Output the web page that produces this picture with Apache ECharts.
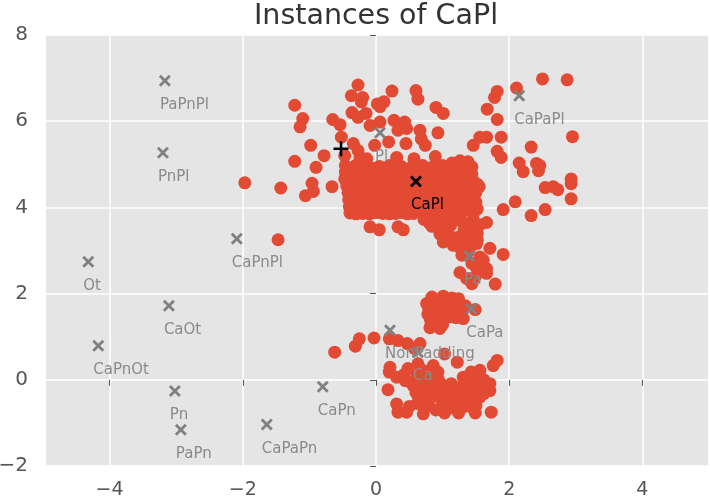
<!DOCTYPE html>
<html>
<head>
<meta charset="utf-8">
<style>html,body{margin:0;background:#fff}#container{width:710px;height:500px}</style>
<script src="https://cdn.jsdelivr.net/npm/echarts@6/dist/echarts.min.js"></script>
</head>
<body>
<div id="container"></div>
<script>
var xTicks = [-4, -2, 0, 2, 4];

// scattered dots above the core
var upperDots = [
  [-0.27,6.84],[-0.37,6.59],[-0.2,6.55],[0.24,6.7],[0.6,6.71],[0.63,6.51],[0.12,6.45],[0.02,6.4],[0.06,6.34],
  [-0.22,6.45],[-1.22,6.37],[-1.1,6.06],[-1.14,5.87],[-0.65,6.04],[-0.54,5.92],[-0.36,6.2],[-0.15,6.18],[-0.27,6.09],
  [-0.09,5.9],[0.06,5.98],[0.27,6.02],[0.43,5.98],[0.33,5.79],[0.46,5.83],[0.66,5.79],[0.68,5.59],[0.74,5.44],
  [0.93,5.73],[0.9,6.32],[1.01,6.18],[1.82,6.69],[1.78,6.55],[1.67,6.28],[1.82,6.04],[2.11,6.77],[2.5,6.98],
  [1.56,5.63],[1.66,5.63],[1.46,5.44],[1.88,5.63],[1.82,5.3],[1.88,5.16],[2.33,5.4],[2.15,5.03],[2.21,4.83],
  [2.41,5.02],[2.46,4.97],[2.44,4.85],[2.54,4.46],[1.91,3.95],[2.09,4.13],[2.33,3.81],[2.54,3.95],
  [-0.98,5.44],[-0.78,5.2],[-1.22,5.07],[-0.9,4.93],[-0.96,4.56],[-0.94,4.37],[-1.06,4.27],[-0.66,4.48],
  [-0.52,5.63],[-0.47,5.2],[-0.34,5.48],[-0.27,5.32],[-0.24,5.16],[-0.14,5.13],[-0.02,5.44],[0.19,5.52],[0.45,5.48],
  [0.31,5.16],[0.32,5.0],[0.57,5.13],[0.89,5.18],[-0.09,3.55],[0.05,3.48],[0.33,3.55],[0.41,3.48],
  [2.87,6.96],[2.95,5.64],[2.93,4.66],[2.93,4.55],[2.93,4.2],[2.66,4.48],[2.73,4.41],[-1.97,4.57],[-1.43,4.45],[-1.47,3.25]
];
// the dense block around CaPl
var coreDots = [
  [-0.46,4.97],[-0.3,4.98],[-0.12,4.96],[0.05,4.95],[0.2,4.97],[0.38,4.95],[0.55,4.96],[0.7,4.97],[0.85,4.94],[1.0,4.97],[1.14,5.03],[1.26,5.08],[1.38,5.06],[1.44,4.94],
  [-0.46,4.82],[-0.28,4.8],[-0.1,4.84],[0.08,4.8],[0.24,4.83],[0.42,4.8],[0.58,4.83],[0.76,4.79],[0.92,4.84],[1.08,4.8],[1.24,4.85],[1.38,4.8],
  [-0.47,4.66],[-0.3,4.65],[-0.13,4.68],[0.03,4.64],[0.19,4.67],[0.36,4.64],[0.52,4.66],[0.7,4.64],[0.86,4.68],[1.02,4.65],[1.18,4.68],[1.34,4.63],[1.47,4.6],[1.55,4.48],
  [-0.44,4.5],[-0.26,4.5],[-0.08,4.52],[0.1,4.49],[0.27,4.52],[0.44,4.49],[0.62,4.5],[0.78,4.52],[0.95,4.49],[1.12,4.5],[1.28,4.52],[1.42,4.47],
  [-0.42,4.34],[-0.24,4.35],[-0.06,4.33],[0.13,4.36],[0.3,4.33],[0.47,4.35],[0.65,4.34],[0.82,4.36],[1.0,4.33],[1.17,4.35],[1.34,4.33],[1.5,4.35],
  [-0.41,4.18],[-0.22,4.2],[-0.04,4.17],[0.14,4.2],[0.32,4.18],[0.5,4.2],[0.68,4.18],[0.86,4.2],[1.04,4.17],[1.22,4.2],[1.38,4.18],[1.5,4.12],
  [-0.4,4.02],[-0.2,4.04],[-0.02,4.01],[0.16,4.04],[0.34,4.02],[0.52,4.03],[0.7,4.01],[0.88,4.04],[1.06,4.02],[1.24,4.04],[1.42,4.0],[1.52,3.96],
  [-0.39,3.87],[-0.2,3.86],[0,3.88],[0.2,3.85],[0.38,3.88],[0.56,3.86],[0.74,3.84],[0.92,3.86],[1.1,3.85],[1.28,3.87],[1.46,3.84],
  // in-between dots that close the block
  [-0.38,4.9],[-0.2,4.89],[-0.02,4.9],[0.14,4.9],[0.3,4.89],[0.47,4.88],[0.64,4.9],[0.8,4.89],[0.98,4.88],[1.16,4.92],[1.32,4.94],
  [-0.38,4.74],[-0.2,4.73],[-0.02,4.75],[0.14,4.72],[0.32,4.74],[0.5,4.73],[0.66,4.72],[0.84,4.75],[1.0,4.73],[1.16,4.76],[1.32,4.72],[1.44,4.78],
  [-0.36,4.58],[-0.18,4.58],[-0.02,4.6],[0.16,4.57],[0.34,4.58],[0.5,4.57],[0.68,4.57],[0.86,4.59],[1.04,4.57],[1.22,4.58],[1.38,4.56],[1.52,4.54],
  [-0.34,4.42],[-0.16,4.43],[0.02,4.42],[0.2,4.44],[0.38,4.42],[0.56,4.43],[0.74,4.42],[0.9,4.44],[1.08,4.42],[1.26,4.43],[1.44,4.4],
  [-0.32,4.26],[-0.14,4.27],[0.04,4.25],[0.22,4.27],[0.4,4.26],[0.58,4.27],[0.76,4.26],[0.94,4.27],[1.12,4.25],[1.3,4.26],[1.47,4.26],
  [-0.3,4.1],[-0.12,4.11],[0.06,4.09],[0.24,4.11],[0.42,4.1],[0.6,4.1],[0.78,4.09],[0.96,4.11],[1.14,4.1],[1.32,4.11],[1.5,4.04],
  [-0.3,3.94],[-0.1,3.95],[0.08,3.94],[0.28,3.95],[0.46,3.94],[0.64,3.95],[0.82,3.94],[1.0,3.95],[1.18,3.94],[1.36,3.94],[-0.3,3.85],[-0.1,3.85],[0.1,3.86],[0.29,3.86],[0.47,3.85]
];
// the stream running down from the core
var streamDots = [
  [0.72,3.72],[0.88,3.7],[1.04,3.74],[1.2,3.72],[1.46,3.7],[1.66,3.65],[0.84,3.56],[0.98,3.52],[1.12,3.58],[1.44,3.54],[1.52,3.4],
  [0.96,3.38],[1.1,3.34],[1.4,3.32],[1.52,3.24],[1.01,3.2],[1.16,3.12],[1.29,2.89],[1.51,3.16],[1.71,3.05],[1.91,2.91],
  [1.56,2.85],[1.66,2.58],[1.44,2.7],[1.26,2.49],[1.49,2.39],[1.36,2.35],[1.44,2.23],[1.79,2.22],[1.61,2.78],[1.66,2.47],
  [0.8,3.64],[0.95,3.62],[1.3,3.66],[1.38,3.6],[1.56,3.6],[1.32,3.46],[1.44,3.42],[1.22,3.3],[1.34,3.2],[1.42,3.08],[1.28,3.02],[1.38,2.96],[1.5,2.62],[1.56,2.52]
];
var middleDots = [
  [0.84,1.92],[1.01,1.94],[1.24,1.88],[0.79,1.65],[0.94,1.73],[1.06,1.69],[0.84,1.5],[0.81,1.21],[0.96,1.19],[1.11,1.46],
  [1.31,1.42],[1.49,1.63],[1.26,1.73],[0.91,1.34],[0.96,1.53],[0.86,1.78],[0.76,1.77],[1.19,1.57],[0.9,1.84],[1.1,1.8],
  [0.78,1.52],[0.82,1.38],[0.98,1.42],[1.0,1.28],[1.04,1.58],[1.18,1.72],[1.14,1.9],[1.3,1.6],[1.2,1.44],[1.34,1.72],
  [-0.62,0.64],[-0.31,0.78],[-0.25,0.95],[-0.03,0.97],[0.2,0.95],[0.33,0.91],[0.47,0.84],[0.66,0.84],[0.58,0.72],[1.03,0.6],[1.22,0.41]
];
var lowerDots = [
  [0.21,0.29],[0.2,0.18],[0.18,-0.23],[0.48,0.26],[0.63,0.37],[0.86,0.33],[0.93,0.18],[0.31,0.06],[1.82,0.45],[1.76,0.33],
  [1.56,0.22],[1.43,0.18],[1.31,0.06],[1.71,-0.09],[1.71,-0.25],[1.56,-0.4],[1.13,-0.09],[0.51,-0.05],[0.71,-0.17],[0.9,-0.15],
  [0.31,-0.56],[0.33,-0.75],[0.46,-0.75],[0.71,-0.79],[1.03,-0.77],[1.24,-0.77],[1.49,-0.77],[1.73,-0.75],[0.62,0.1],[0.78,0.05],
  [0.94,0],[0.6,-0.3],[0.75,-0.42],[0.92,-0.38],[1.08,-0.3],[1.25,-0.22],[1.4,-0.15],[1.5,-0.02],[0.62,-0.55],[0.8,-0.6],[1,-0.55],[1.2,-0.52],[1.38,-0.48],[1.5,-0.6],
  [0.42,0.12],[0.7,0.22],[0.84,0.12],[0.56,-0.14],[0.44,-0.02],[0.66,-0.04],[0.82,-0.06],[1.0,-0.12],[1.18,-0.2],[1.32,-0.05],[1.46,-0.3],[1.6,-0.18],
  [0.64,-0.42],[0.84,-0.26],[1.02,-0.26],[1.16,-0.4],[1.32,-0.34],[1.5,-0.4],[0.5,-0.62],[0.72,-0.62],[0.9,-0.7],[1.12,-0.65],[1.3,-0.64],[1.44,-0.64],[1.62,-0.32],[1.62,0.0],[1.46,0.08]
];

var grayNames = ["PaPnPl","PnPl","CaPnPl","Ot","CaOt","CaPnOt","Pn","PaPn","CaPaPn","CaPn","NonPadding","Ca","Pa","CaPa","CaPaPl","Pl"];
var grayPoints = [
  [-3.17,6.94],[-3.2,5.27],[-2.09,3.27],[-4.32,2.74],[-3.11,1.72],[-4.17,0.79],[-3.02,-0.26],[-2.93,-1.16],
  [-1.64,-1.04],[-0.8,-0.16],[0.21,1.15],[0.63,0.64],[1.4,2.87],[1.43,1.65],[2.15,6.59],[0.06,5.73]
];
var blackCross = [[0.6,4.6]];
var blackPlus = [[-0.525,5.36]];

var xMark = "path://M4,0 L12,8 L20,0 L24,4 L16,12 L24,20 L20,24 L12,16 L4,24 L0,20 L8,12 L0,4 Z";
var plusMark = "path://M10,0 L14,0 L14,10 L24,10 L24,14 L14,14 L14,24 L10,24 L10,14 L0,14 L0,10 L10,10 Z";

function tickText(v) {
  return String(v).replace("-", "\u2212");
}

var dom = document.getElementById("container");
var myChart = echarts.init(dom, null, { renderer: "canvas" });

var option = {
  animation: false,
  backgroundColor: "#fff",
  title: {
    text: "Instances of CaPl",
    left: 371,
    top: -3,
    textAlign: "center",
    textStyle: { fontFamily: "DejaVu Sans", fontSize: 28.5, fontWeight: "normal", color: "#333" },
  },
  grid: { left: 46, right: 2, top: 35, bottom: 34, outerBoundsMode: "none", backgroundColor: "#E5E5E5", show: true, borderWidth: 0 },
  xAxis: {
    type: "value",
    min: -4.955,
    max: 4.985,
    offset: 3,
    axisLine: { show: false },
    axisTick: { show: true, length: 6, customValues: xTicks, lineStyle: { color: "#555" } },
    axisLabel: { customValues: xTicks, formatter: tickText, color: "#555", fontFamily: "DejaVu Sans", fontSize: 19, margin: 12 },
    splitLine: { show: true, lineStyle: { color: "#fff", width: 1.5 } },
  },
  yAxis: {
    type: "value",
    min: -2,
    max: 8,
    interval: 2,
    offset: 3,
    axisLine: { show: false },
    axisTick: { show: true, length: 6, lineStyle: { color: "#555" } },
    axisLabel: { formatter: tickText, color: "#555", fontFamily: "DejaVu Sans", fontSize: 20, margin: 15 },
    splitLine: { show: true, lineStyle: { color: "#fff", width: 1.5 } },
  },
  series: [
    {
      type: "scatter",
      data: upperDots.concat(coreDots, streamDots, middleDots, lowerDots),
      symbolSize: 13,
      itemStyle: { color: "#E24A33", opacity: 1 },
    },
    {
      type: "scatter",
      data: grayPoints.map(function (p, i) {
        return { name: grayNames[i], value: p };
      }),
      symbol: xMark,
      symbolSize: 12,
      itemStyle: { color: "#808080", opacity: 1 },
      label: {
        show: true,
        position: [1, 30],
        verticalAlign: "middle",
        formatter: "{b}",
        color: "#8a8a8a",
        fontFamily: "DejaVu Sans",
        fontSize: 15,
      },
    },
    {
      type: "scatter",
      data: blackCross.map(function (p) {
        return { name: "CaPl", value: p };
      }),
      symbol: xMark,
      symbolSize: 12,
      itemStyle: { color: "#000", opacity: 1 },
      label: {
        show: true,
        position: [1, 30],
        verticalAlign: "middle",
        formatter: "{b}",
        color: "#000",
        fontFamily: "DejaVu Sans",
        fontSize: 15,
      },
    },
    {
      type: "scatter",
      data: blackPlus,
      symbol: plusMark,
      symbolSize: 15,
      itemStyle: { color: "#000", opacity: 1 },
    },
  ],
};
myChart.setOption(option);

window.addEventListener("resize", myChart.resize);
</script>
</body>
</html>
